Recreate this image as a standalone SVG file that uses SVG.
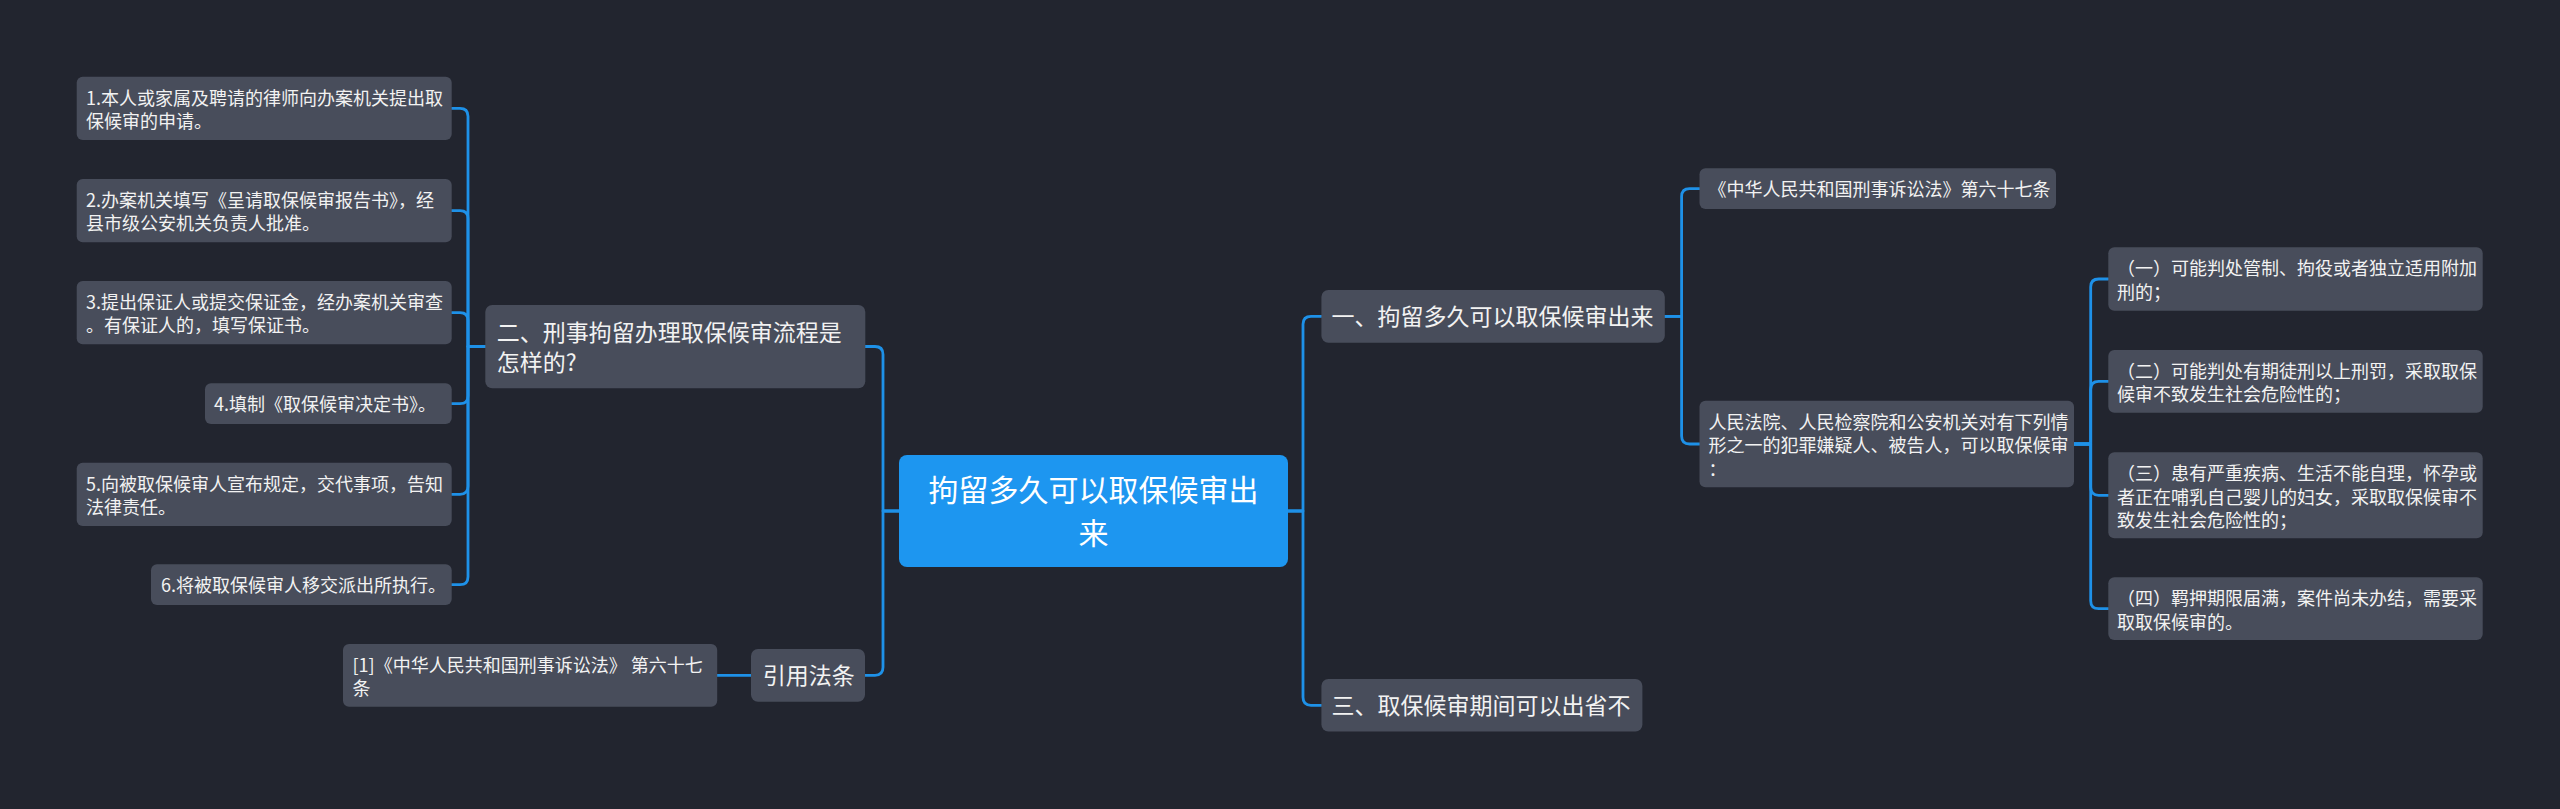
<svg xmlns="http://www.w3.org/2000/svg" width="2560" height="809" viewBox="0 0 2560 809">
<style>
.bg{fill:#22252f}
.n{fill:#484d5b}
.c{fill:#1d96f0}
.t{font-family:"Noto Sans CJK SC","Noto Sans",sans-serif;font-size:18px;fill:#f2f2f2}
.t2{font-family:"Noto Sans CJK SC","Noto Sans",sans-serif;font-size:23px;fill:#f2f2f2}
.t3{font-family:"Noto Sans CJK SC","Noto Sans",sans-serif;font-size:30px;fill:#ffffff;text-anchor:middle}
.l{fill:none;stroke:#1e91e8;stroke-width:2.8;stroke-linecap:round;stroke-linejoin:round}
</style>
<rect class="bg" x="0" y="0" width="2560" height="809"/>
<g id="connectors">
<path class="l" d="M899 511 H883 V354.5 Q883 346.5 875 346.5 H865.3"/>
<path class="l" d="M899 511 H883 V667.3 Q883 675.3 875 675.3 H865"/>
<path class="l" d="M751 675.3 H717.2"/>
<path class="l" d="M485.3 346.5 H468 V116.3 Q468 108.3 460 108.3 H451.7"/>
<path class="l" d="M485.3 346.5 H468 V218.7 Q468 210.7 460 210.7 H451.7"/>
<path class="l" d="M485.3 346.5 H468 V320.7 Q468 312.7 460 312.7 H451.7"/>
<path class="l" d="M485.3 346.5 H468 V395.7 Q468 403.7 460 403.7 H451.7"/>
<path class="l" d="M485.3 346.5 H468 V486.3 Q468 494.3 460 494.3 H451.7"/>
<path class="l" d="M485.3 346.5 H468 V576.7 Q468 584.7 460 584.7 H451.7"/>
<path class="l" d="M1288 511 H1303 V324.3 Q1303 316.3 1311 316.3 H1321.4"/>
<path class="l" d="M1288 511 H1303 V697.3 Q1303 705.3 1311 705.3 H1321.4"/>
<path class="l" d="M1664.8 316.3 H1681.6 V196.7 Q1681.6 188.7 1689.6 188.7 H1699.5"/>
<path class="l" d="M1664.8 316.3 H1681.6 V436 Q1681.6 444 1689.6 444 H1699.5"/>
<path class="l" d="M2074 444 H2090.7 V287 Q2090.7 279 2098.7 279 H2108.3"/>
<path class="l" d="M2074 444 H2090.7 V389.3 Q2090.7 381.3 2098.7 381.3 H2108.3"/>
<path class="l" d="M2074 444 H2090.7 V487.3 Q2090.7 495.3 2098.7 495.3 H2108.3"/>
<path class="l" d="M2074 444 H2090.7 V600.7 Q2090.7 608.7 2098.7 608.7 H2108.3"/>
</g>
<g id="center">
<rect class="c" x="899" y="455" width="389" height="112" rx="8"/>
<text class="t3" x="1093.5" y="501">拘留多久可以取保候审出</text>
<text class="t3" x="1093.5" y="544">来</text>
</g>
<g id="n-er">
<rect class="n" x="485.3" y="305" width="380" height="83.3" rx="7"/>
<text class="t2" x="496.8" y="341.2">二、刑事拘留办理取保候审流程是</text>
<text class="t2" x="496.8" y="371.2">怎样的?</text>
</g>
<g id="n-yinyong">
<rect class="n" x="751" y="649" width="114" height="52.7" rx="7"/>
<text class="t2" x="762.8" y="684">引用法条</text>
</g>
<g id="n-ref1">
<rect class="n" x="343" y="644" width="374.2" height="62.7" rx="6"/>
<text class="t" x="352.5" y="672">[1]《中华人民共和国刑事诉讼法》 第六十七</text>
<text class="t" x="352.5" y="695.4">条</text>
</g>
<g id="n-s1">
<rect class="n" x="76.7" y="76.7" width="375" height="63.3" rx="6"/>
<text class="t" x="86" y="104.7">1.本人或家属及聘请的律师向办案机关提出取</text>
<text class="t" x="86" y="128.1">保候审的申请。</text>
</g>
<g id="n-s2">
<rect class="n" x="76.7" y="179" width="375" height="63.3" rx="6"/>
<text class="t" x="86" y="207">2.办案机关填写《呈请取保候审报告书》，经</text>
<text class="t" x="86" y="230.4">县市级公安机关负责人批准。</text>
</g>
<g id="n-s3">
<rect class="n" x="76.7" y="281" width="375" height="63.3" rx="6"/>
<text class="t" x="86" y="309">3.提出保证人或提交保证金，经办案机关审查</text>
<text class="t" x="86" y="332.4">。有保证人的，填写保证书。</text>
</g>
<g id="n-s4">
<rect class="n" x="205" y="383.3" width="246.7" height="40.7" rx="6"/>
<text class="t" x="214" y="411.3">4.填制《取保候审决定书》。</text>
</g>
<g id="n-s5">
<rect class="n" x="76.7" y="462.7" width="375" height="63.3" rx="6"/>
<text class="t" x="86" y="490.7">5.向被取保候审人宣布规定，交代事项，告知</text>
<text class="t" x="86" y="514.1">法律责任。</text>
</g>
<g id="n-s6">
<rect class="n" x="151" y="564.3" width="300.7" height="40.7" rx="6"/>
<text class="t" x="161" y="592.3">6.将被取保候审人移交派出所执行。</text>
</g>
<g id="n-yi">
<rect class="n" x="1321.4" y="290" width="343.4" height="52.7" rx="7"/>
<text class="t2" x="1331.6" y="325">一、拘留多久可以取保候审出来</text>
</g>
<g id="n-san">
<rect class="n" x="1321.4" y="679" width="321" height="52.6" rx="7"/>
<text class="t2" x="1331.6" y="714">三、取保候审期间可以出省不</text>
</g>
<g id="n-law">
<rect class="n" x="1699.5" y="168.3" width="356.5" height="40.7" rx="6"/>
<text class="t" x="1708.5" y="196.3">《中华人民共和国刑事诉讼法》第六十七条</text>
</g>
<g id="n-renmin">
<rect class="n" x="1699.5" y="400.7" width="374.5" height="86.6" rx="6"/>
<text class="t" x="1708.5" y="428.7">人民法院、人民检察院和公安机关对有下列情</text>
<text class="t" x="1708.5" y="452.1">形之一的犯罪嫌疑人、被告人，可以取保候审</text>
<text class="t" x="1708.5" y="475.5">：</text>
</g>
<g id="n-c1">
<rect class="n" x="2108.3" y="247.3" width="374.4" height="63.4" rx="6"/>
<text class="t" x="2117" y="275.3">（一）可能判处管制、拘役或者独立适用附加</text>
<text class="t" x="2117" y="298.7">刑的；</text>
</g>
<g id="n-c2">
<rect class="n" x="2108.3" y="350" width="374.4" height="62.7" rx="6"/>
<text class="t" x="2117" y="378">（二）可能判处有期徒刑以上刑罚，采取取保</text>
<text class="t" x="2117" y="401.4">候审不致发生社会危险性的；</text>
</g>
<g id="n-c3">
<rect class="n" x="2108.3" y="452.3" width="374.4" height="86" rx="6"/>
<text class="t" x="2117" y="480.3">（三）患有严重疾病、生活不能自理，怀孕或</text>
<text class="t" x="2117" y="503.7">者正在哺乳自己婴儿的妇女，采取取保候审不</text>
<text class="t" x="2117" y="527.1">致发生社会危险性的；</text>
</g>
<g id="n-c4">
<rect class="n" x="2108.3" y="577.3" width="374.4" height="62.7" rx="6"/>
<text class="t" x="2117" y="605.3">（四）羁押期限届满，案件尚未办结，需要采</text>
<text class="t" x="2117" y="628.7">取取保候审的。</text>
</g>
</svg>
